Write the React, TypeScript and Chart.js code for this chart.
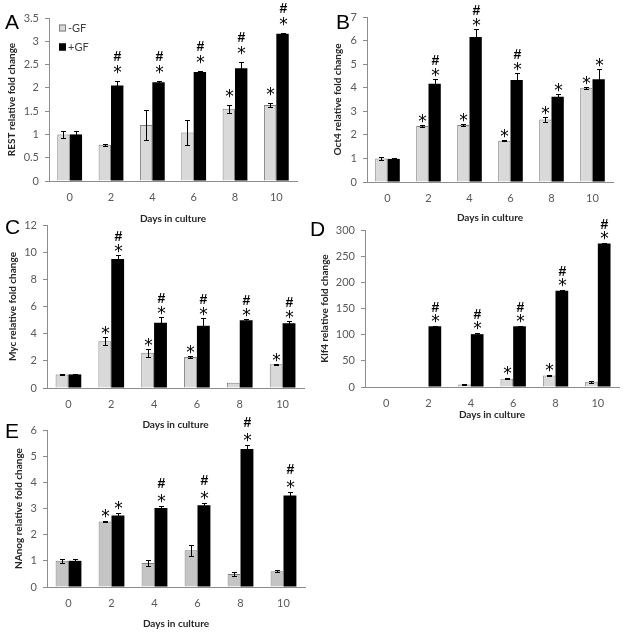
import React, { useEffect, useRef } from "react";
import { Chart, registerables } from "chart.js";
Chart.register(...registerables);

const days = ["0", "2", "4", "6", "8", "10"];
const seriesNames = ["-GF", "+GF"];

// A: REST
const restMinusGF = [1.0, 0.78, 1.2, 1.04, 1.55, 1.63];
const restMinusGFErr = [0.08, 0.02, 0.32, 0.27, 0.08, 0.05];
const restPlusGF = [1.0, 2.05, 2.12, 2.34, 2.42, 3.16];
const restPlusGFErr = [0.08, 0.09, 0.03, 0.03, 0.13, 0.02];
const restMinusSig = ["", "", "", "", "*", "*"];
const restPlusSig = ["", "#*", "#*", "#*", "#*", "#*"];

// B: Oct4
const oct4MinusGF = [1.0, 2.38, 2.42, 1.75, 2.65, 4.0];
const oct4MinusGFErr = [0.05, 0.03, 0.06, 0.03, 0.12, 0.05];
const oct4PlusGF = [0.98, 4.17, 6.15, 4.33, 3.62, 4.36];
const oct4PlusGFErr = [0.05, 0.2, 0.32, 0.3, 0.12, 0.42];
const oct4MinusSig = ["", "*", "*", "*", "*", "*"];
const oct4PlusSig = ["", "#*", "#*", "#*", "*", "*"];

// C: Myc
const mycMinusGF = [1.0, 3.45, 2.6, 2.28, 0.38, 1.75];
const mycMinusGFErr = [0.03, 0.3, 0.3, 0.08, 0, 0.05];
const mycPlusGF = [1.0, 9.5, 4.8, 4.58, 4.98, 4.77];
const mycPlusGFErr = [0.03, 0.28, 0.4, 0.55, 0.1, 0.15];
const mycMinusSig = ["", "*", "*", "*", "", "*"];
const mycPlusSig = ["", "#*", "#*", "#*", "#*", "#*"];

// D: Klf4
const klf4MinusGF = [1, 1, 5, 16, 22, 10];
const klf4MinusGFErr = [0, 0, 0.5, 0.5, 1, 1.5];
const klf4PlusGF = [1, 116, 101, 116, 184, 274];
const klf4PlusGFErr = [0, 1, 1.5, 0.5, 1, 0.5];
const klf4MinusSig = ["", "", "", "*", "*", ""];
const klf4PlusSig = ["", "#*", "#*", "#*", "#*", "#*"];

// E: NAnog
const nanogMinusGF = [1.0, 2.5, 0.92, 1.4, 0.5, 0.6];
const nanogMinusGFErr = [0.08, 0.02, 0.12, 0.2, 0.08, 0.04];
const nanogPlusGF = [1.0, 2.73, 3.02, 3.12, 5.27, 3.5];
const nanogPlusGFErr = [0.08, 0.08, 0.07, 0.09, 0.14, 0.12];
const nanogMinusSig = ["", "*", "", "", "", ""];
const nanogPlusSig = ["", "*", "#*", "#*", "#*", "#*"];

type Panel = {
  letter: string;
  yTitle: string;
  minus: number[];
  minusErr: number[];
  plus: number[];
  plusErr: number[];
  minusSig: string[];
  plusSig: string[];
  max: number;
  step: number;
  box: [number, number, number, number];
  plot: [number, number, number, number];
  yTitleX: number;
  xTitleY: number;
  letterXY: [number, number];
  light: string;
  starGap: number;
  hashGap: number;
  legend?: boolean;
};

const panels: Panel[] = [
  {
    letter: "A", yTitle: "REST relative fold change",
    minus: restMinusGF, minusErr: restMinusGFErr, plus: restPlusGF, plusErr: restPlusGFErr,
    minusSig: restMinusSig, plusSig: restPlusSig, max: 3.5, step: 0.5,
    box: [0, 0, 308, 225], plot: [49, 18, 297, 181], yTitleX: 12, xTitleY: 219,
    letterXY: [5, 29], light: "#d9d9d9", starGap: 14, hashGap: 12, legend: true,
  },
  {
    letter: "B", yTitle: "Oct4 relative fold change",
    minus: oct4MinusGF, minusErr: oct4MinusGFErr, plus: oct4PlusGF, plusErr: oct4PlusGFErr,
    minusSig: oct4MinusSig, plusSig: oct4PlusSig, max: 7, step: 1,
    box: [308, 0, 317, 225], plot: [367, 17, 613, 182], yTitleX: 338, xTitleY: 218,
    letterXY: [336, 29], light: "#d9d9d9", starGap: 9, hashGap: 11,
  },
  {
    letter: "C", yTitle: "Myc relative fold change",
    minus: mycMinusGF, minusErr: mycMinusGFErr, plus: mycPlusGF, plusErr: mycPlusGFErr,
    minusSig: mycMinusSig, plusSig: mycPlusSig, max: 12, step: 2,
    box: [0, 205, 308, 225], plot: [47, 225, 304, 388], yTitleX: 13, xTitleY: 425,
    letterXY: [5, 234], light: "#d9d9d9", starGap: 9, hashGap: 11,
  },
  {
    letter: "D", yTitle: "Klf4 relative fold change",
    minus: klf4MinusGF, minusErr: klf4MinusGFErr, plus: klf4PlusGF, plusErr: klf4PlusGFErr,
    minusSig: klf4MinusSig, plusSig: klf4PlusSig, max: 300, step: 50,
    box: [308, 205, 317, 225], plot: [365, 230, 619, 387], yTitleX: 325, xTitleY: 415,
    letterXY: [310, 236], light: "#d9d9d9", starGap: 10, hashGap: 10,
  },
  {
    letter: "E", yTitle: "NAnog relative fold change",
    minus: nanogMinusGF, minusErr: nanogMinusGFErr, plus: nanogPlusGF, plusErr: nanogPlusGFErr,
    minusSig: nanogMinusSig, plusSig: nanogPlusSig, max: 6, step: 1,
    box: [0, 410, 308, 226], plot: [47, 430, 305, 587], yTitleX: 19, xTitleY: 624,
    letterXY: [5, 438], light: "#c4c4c4", starGap: 10, hashGap: 14,
  },
];

const FONT = "'Liberation Sans', Arial, sans-serif";
const BODY = "Lato, 'Liberation Sans', Arial, sans-serif";

const marksPlugin = {
  id: "marks",
  afterDatasetsDraw(chart: any, _args: any, opts: any) {
    const ctx = chart.ctx;
    const ys = chart.scales.y;
    chart.data.datasets.forEach((ds: any, i: number) => {
      const meta = chart.getDatasetMeta(i);
      meta.data.forEach((el: any, j: number) => {
        const v = ds.data[j];
        const e = ds.errors[j];
        const x = Math.round(el.x) + 0.5;
        const top = Math.round(ys.getPixelForValue(v + e)) + 0.5;
        const bot = Math.round(ys.getPixelForValue(v - e)) + 0.5;
        ctx.save();
        if (e > 0) {
          ctx.strokeStyle = "#000";
          ctx.lineWidth = 1;
          ctx.beginPath();
          ctx.moveTo(x, top);
          ctx.lineTo(x, bot);
          ctx.moveTo(x - 2.5, top);
          ctx.lineTo(x + 2.5, top);
          ctx.moveTo(x - 2.5, bot);
          ctx.lineTo(x + 2.5, bot);
          ctx.stroke();
        }
        const s: string = ds.sig[j];
        if (s) {
          ctx.fillStyle = "#000";
          ctx.textAlign = "center";
          ctx.textBaseline = "alphabetic";
          const starY = top - opts.starGap;
          if (s.includes("*")) {
            ctx.font = `17px 'DejaVu Sans', sans-serif`;
            ctx.fillText("*", x, starY + 10.5);
          }
          if (s.includes("#")) {
            ctx.font = `bold 14px ${FONT}`;
            ctx.fillText("#", x, starY - opts.hashGap + 5);
          }
        }
        ctx.restore();
      });
    });
  },
  afterDraw(chart: any, _args: any, opts: any) {
    const ctx = chart.ctx;
    ctx.save();
    ctx.fillStyle = "#000";
    ctx.font = `21px ${FONT}`;
    ctx.textAlign = "left";
    ctx.textBaseline = "alphabetic";
    ctx.fillText(opts.letter, opts.letterX, opts.letterY);
    if (opts.legend) {
      const lx = chart.chartArea.left + 10;
      const items = [
        { y: chart.chartArea.top + 10, fill: opts.light, stroke: "#7f7f7f", label: seriesNames[0] },
        { y: chart.chartArea.top + 29, fill: "#000", stroke: "#000", label: seriesNames[1] },
      ];
      ctx.font = `11px ${BODY}`;
      ctx.textBaseline = "middle";
      items.forEach((it) => {
        ctx.fillStyle = it.fill;
        ctx.fillRect(lx, it.y - 3.5, 7, 7);
        ctx.strokeStyle = it.stroke;
        ctx.lineWidth = 1;
        ctx.strokeRect(lx + 0.5, it.y - 3.5 + 0.5, 6, 6);
        ctx.fillStyle = "#404040";
        ctx.fillText(it.label, lx + 9, it.y);
      });
    }
    ctx.restore();
  },
};

function PanelChart({ p }: { p: Panel }) {
  const ref = useRef<HTMLCanvasElement | null>(null);
  useEffect(() => {
    if (!ref.current) return;
    const [bl, bt, bw, bh] = p.box;
    const [pl, pt, pr, pb] = p.plot;
    const yWidth = pl - bl;
    const xHeight = bt + bh - pb;
    const titleLH = 10 * 1.2;
    const chart = new Chart(ref.current, {
      type: "bar",
      data: {
        labels: days,
        datasets: [
          {
            label: seriesNames[0],
            data: p.minus,
            errors: p.minusErr,
            sig: p.minusSig,
            backgroundColor: p.light,
            borderColor: "#808080",
            borderWidth: 1,
            categoryPercentage: 0.6,
            barPercentage: 1.0,
          } as any,
          {
            label: seriesNames[1],
            data: p.plus,
            errors: p.plusErr,
            sig: p.plusSig,
            backgroundColor: "#000",
            borderColor: "#000",
            borderWidth: 0,
            categoryPercentage: 0.6,
            barPercentage: 1.0,
          } as any,
        ],
      },
      options: {
        responsive: false,
        animation: false,
        layout: { padding: { left: 0, top: pt - bt, right: bl + bw - pr, bottom: 0 } },
        plugins: {
          legend: { display: false },
          tooltip: { enabled: false },
          marks: {
            letter: p.letter,
            letterX: p.letterXY[0] - bl,
            letterY: p.letterXY[1] - bt,
            legend: !!p.legend,
            light: p.light,
            starGap: p.starGap,
            hashGap: p.hashGap,
          },
        } as any,
        scales: {
          x: {
            grid: { display: true, drawOnChartArea: false, drawTicks: false, color: "rgba(0,0,0,0)" },
            border: { display: true, color: "#8c8c8c", width: 1 },
            ticks: { color: "#595959", font: { size: 11, family: BODY }, padding: 10 },
            title: {
              display: true,
              text: "Days in culture",
              color: "#262626",
              font: { size: 10, family: BODY, weight: "bold" },
              padding: { top: 0, bottom: bt + bh - p.xTitleY - titleLH / 2 },
            },
            afterFit: (s: any) => {
              s.height = xHeight;
            },
          },
          y: {
            min: 0,
            max: p.max,
            ticks: {
              stepSize: p.step,
              color: "#595959",
              font: { size: 11, family: BODY },
              padding: 6,
              callback: (v: any) => String(Math.round(Number(v) * 100) / 100),
            },
            grid: { display: true, drawOnChartArea: false, drawTicks: true, tickLength: 4, color: "#8c8c8c" },
            border: { display: true, color: "#8c8c8c", width: 1 },
            title: {
              display: true,
              text: p.yTitle,
              color: "#262626",
              font: { size: 10, family: BODY, weight: "bold" },
              padding: { top: p.yTitleX - bl - titleLH / 2, bottom: 0 },
            },
            afterFit: (s: any) => {
              s.width = yWidth;
            },
          },
        },
      } as any,
      plugins: [marksPlugin as any],
    });
    return () => chart.destroy();
  }, [p]);
  const [bl, bt, bw, bh] = p.box;
  return (
    <canvas
      ref={ref}
      width={bw}
      height={bh}
      style={{ position: "absolute", left: bl, top: bt, width: bw, height: bh }}
    />
  );
}

export default function App() {
  return (
    <div style={{ position: "absolute", left: 0, top: 0, width: 625, height: 636, background: "#fff" }}>
      {panels.map((p) => (
        <PanelChart key={p.letter} p={p} />
      ))}
    </div>
  );
}
